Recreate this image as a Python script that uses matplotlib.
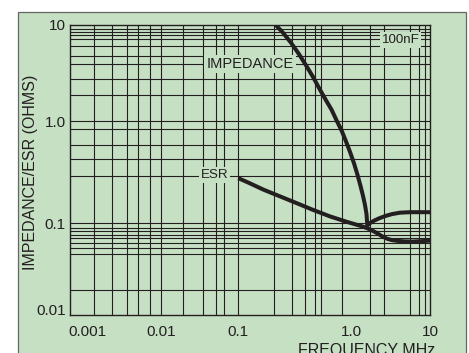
import numpy as np
import matplotlib
matplotlib.use("Agg")
import matplotlib.pyplot as plt
from matplotlib.patches import Rectangle
from matplotlib.ticker import FixedLocator, NullLocator

plt.rcParams['font.family'] = ['Liberation Sans', 'DejaVu Sans']

# --- data -------------------------------------------------------------
impedance_freq = [0.215, 0.249, 0.293, 0.345, 0.403, 0.4625, 0.528, 0.596, 0.668, 0.738,
                  0.82, 0.894, 0.97, 1.076, 1.192, 1.302, 1.401, 1.486, 1.553, 1.59,
                  1.72, 1.935, 2.24, 2.67, 3.28, 4.15, 5.56, 7.46, 10.0]
impedance_ohms = [10.0, 8.32, 6.55, 4.98, 3.72, 2.84, 2.13, 1.66, 1.322, 1.029,
                  0.81, 0.638, 0.503, 0.388, 0.299, 0.233, 0.186, 0.151, 0.123, 0.0946,
                  0.1002, 0.1058, 0.1115, 0.1174, 0.1229, 0.1269, 0.1283, 0.1283, 0.1283]

esr_freq = [0.1006, 0.1275, 0.167, 0.2344, 0.329, 0.458, 0.646, 0.913, 1.413, 1.72,
            2.094, 2.446, 2.833, 3.28, 3.912, 4.8, 5.9, 7.46, 10.0]
esr_ohms = [0.2773, 0.2465, 0.2141, 0.1836, 0.1574, 0.1352, 0.1167, 0.103, 0.0916, 0.0856,
            0.0784, 0.0721, 0.0678, 0.0654, 0.0641, 0.0633, 0.063, 0.0636, 0.0646]

x_ticks = [0.001, 0.01, 0.1, 1.0, 10.0]
x_tick_labels = ['0.001', '0.01', '0.1', '1.0', '10']
y_ticks = [0.01, 0.1, 1.0, 10.0]
y_tick_labels = ['0.01', '0.1', '1.0', '10']

# hand-ruled chart paper lines
x_grid = [0.00125, 0.00216, 0.0035, 0.00489, 0.00703, 0.01, 0.0195, 0.0348, 0.0513,
          0.0664, 0.1, 0.209, 0.297, 0.393, 0.477, 0.542, 0.82, 1.736, 2.57, 5.51,
          7.31, 8.64]
y_grid = [9.15, 8.46, 7.8, 7.16, 6.0, 4.72, 3.94, 2.75, 1.88, 1.0, 0.848, 0.594, 0.432,
          0.294, 0.1, 0.0882, 0.0824, 0.0745, 0.0686, 0.0605, 0.0542, 0.0459, 0.0187]

# --- uneven log scales (each decade has its own width) ------------------
def make_decade_scale(first_exp, widths):
    logs = np.arange(first_exp, first_exp + len(widths) + 1, dtype=float)
    pos = np.concatenate([[0.0], np.cumsum(widths)])

    def fwd(v):
        lv = np.log10(np.clip(np.asarray(v, dtype=float), 1e-12, None))
        out = np.interp(lv, logs, pos)
        out = np.where(lv < logs[0], pos[0] + (lv - logs[0]) * widths[0], out)
        out = np.where(lv > logs[-1], pos[-1] + (lv - logs[-1]) * widths[-1], out)
        return out

    def inv(p):
        p = np.asarray(p, dtype=float)
        lv = np.interp(p, pos, logs)
        lv = np.where(p < pos[0], logs[0] + (p - pos[0]) / widths[0], lv)
        lv = np.where(p > pos[-1], logs[-1] + (p - pos[-1]) / widths[-1], lv)
        return 10.0 ** lv

    return fwd, inv

x_fwd, x_inv = make_decade_scale(-3, [74.0, 77.0, 113.5, 78.5])
y_fwd, y_inv = make_decade_scale(-2, [91.7, 101.6, 96.4])

# --- figure -----------------------------------------------------------
GREEN = '#c6e0c4'
INK = '#231f20'

W, H = 469, 353
fig = plt.figure(figsize=(W / 100, H / 100), dpi=100)
fig.patch.set_facecolor('white')
fig.add_artist(Rectangle((18 / W, -0.02), (466 - 18) / W, 1.02 - 12.3 / H,
                         transform=fig.transFigure, facecolor=GREEN,
                         edgecolor='#666666', linewidth=0.9, zorder=0))

ax = fig.add_axes([70 / W, 38 / H, 360 / W, 290 / H])
ax.set_facecolor(GREEN)
ax.set_xscale('function', functions=(x_fwd, x_inv))
ax.set_yscale('function', functions=(y_fwd, y_inv))
ax.set_xlim(10 ** (-3 - 17 / 74.0), 10.0)
ax.set_ylim(0.01, 10.0)

for xv in x_grid:
    ax.axvline(xv, color=INK, lw=0.8, zorder=1)
for yv in y_grid:
    ax.axhline(yv, color=INK, lw=0.8, zorder=1)

for s in ax.spines.values():
    s.set_color(INK)
    s.set_linewidth(1.0)

ax.xaxis.set_major_locator(FixedLocator(x_ticks))
ax.xaxis.set_minor_locator(NullLocator())
ax.yaxis.set_major_locator(FixedLocator(y_ticks))
ax.yaxis.set_minor_locator(NullLocator())
ax.set_xticklabels(x_tick_labels)
ax.set_yticklabels(y_tick_labels)
ax.tick_params(axis='x', length=0, pad=7.5, labelsize=11, colors=INK)
ax.tick_params(axis='y', length=0, pad=3, labelsize=11, colors=INK)
# lowest value label sits on its baseline, just above the frame corner
ax.get_yticklabels()[0].set_verticalalignment('baseline')

ax.plot(impedance_freq, impedance_ohms, color=INK, lw=2.9, solid_joinstyle='round',
        solid_capstyle='butt', zorder=4)
ax.plot(esr_freq, esr_ohms, color=INK, lw=2.9, solid_joinstyle='round',
        solid_capstyle='butt', zorder=4)

box = dict(boxstyle='square,pad=0.15', facecolor=GREEN, edgecolor='none')
ax.text(0.127, 3.97, 'IMPEDANCE', fontsize=10.5, color=INK, ha='center', va='center',
        bbox=box, zorder=3)
ax.text(4.2, 6.95, '100nF', fontsize=9.6, color=INK, ha='center', va='center',
        bbox=box, zorder=3)
ax.text(0.0497, 0.297, 'ESR', fontsize=9.6, color=INK, ha='center', va='center',
        bbox=box, zorder=3)

fig.text(31 / W, 1 - 172 / H, 'IMPEDANCE/ESR (OHMS)', rotation=90, fontsize=11.5,
         color=INK, ha='center', va='center')
fig.text(435 / W, 1 - 343 / H, 'FREQUENCY MHz', fontsize=11.5, color=INK,
         ha='right', va='top')

fig.savefig('out.png', dpi=100, facecolor=fig.get_facecolor())
